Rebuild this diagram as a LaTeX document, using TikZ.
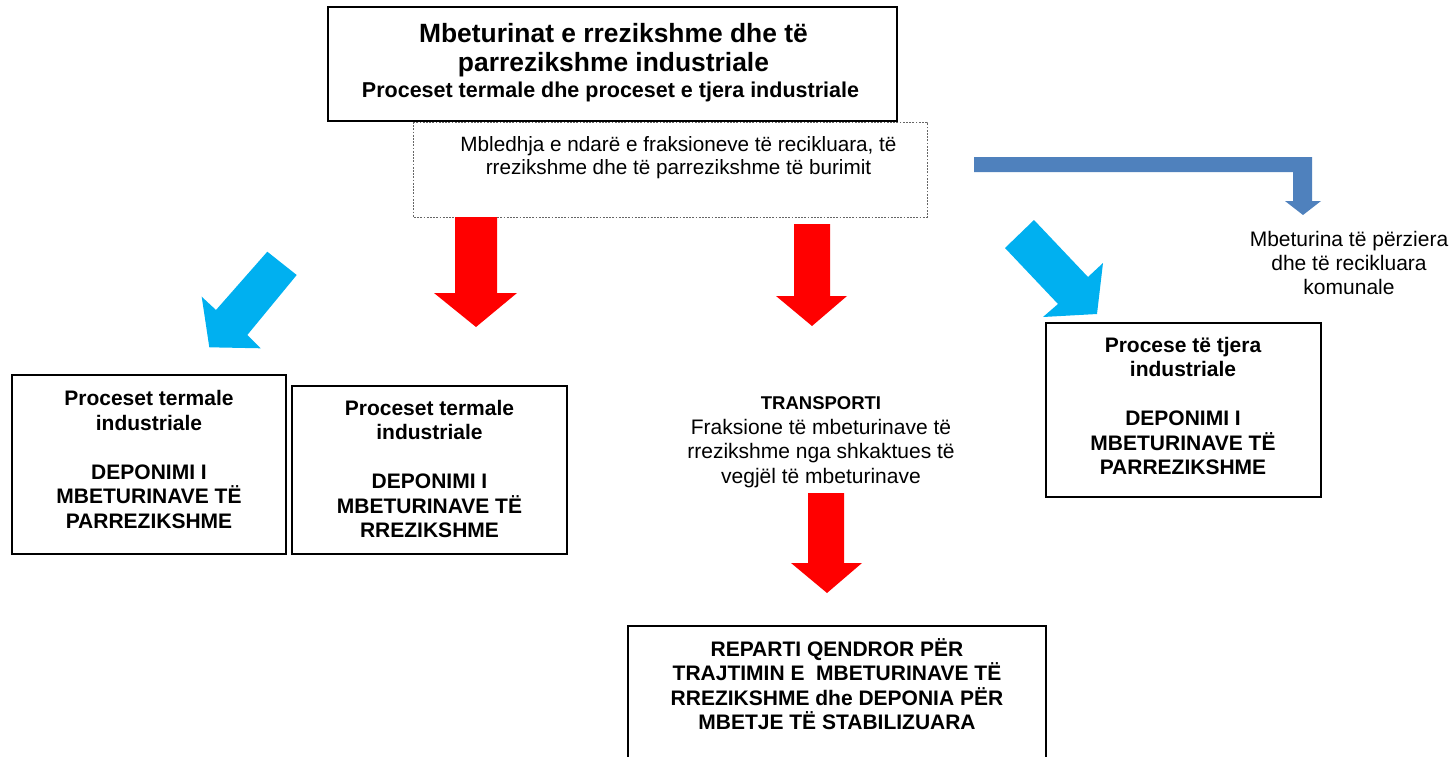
\documentclass[tikz,border=0pt]{standalone}
\usepackage{fontspec}
\setmainfont{Liberation Sans}
\definecolor{redA}{RGB}{255,0,0}
\definecolor{cyanA}{RGB}{0,176,240}
\definecolor{steelA}{RGB}{79,129,189}
\begin{document}
\begin{tikzpicture}[x=1pt,y=-1pt,
  box/.style={draw=black,line width=1.8pt},
  dotbox/.style={draw=black!60,line width=0.9pt,dash pattern=on 1.8pt off 1.4pt},
  txt/.style={inner sep=0pt,align=center,execute at begin node=\strut,execute at end node=\strut},
  boldtxt/.style={txt,font=\fontsize{21}{24.5}\selectfont\bfseries},
  regtxt/.style={txt,font=\fontsize{21}{24}\selectfont},
  redarrow/.style={fill=redA,draw=none},
  cyanarrow/.style={fill=cyanA,draw=none},
  steelarrow/.style={fill=steelA,draw=none}]
\clip (0,0) rectangle (1456,757);
\fill[white] (0,0) rectangle (1456,757);
% boxes
\draw[dotbox] (413,122) rectangle (927,217);
\draw[box] (328,7) rectangle (897,121);
\draw[box] (12,375) rectangle (286,554);
\draw[box] (292,386) rectangle (567,554);
\draw[box] (1046,323) rectangle (1321,497);
\draw[box] (628,626) rectangle (1046,775);
% texts
\node[txt,font=\fontsize{26.4}{29}\selectfont\bfseries] (title) at (613.5,51.7)
  {Mbeturinat e rrezikshme dhe të\\parrezikshme industriale};
\node[inner sep=0pt,anchor=base,font=\fontsize{21.5}{26}\selectfont\bfseries] (subtitle) at (610.5,98)
  {Proceset termale dhe proceset e tjera industriale};
\node[txt,font=\fontsize{20.7}{23}\selectfont] (collect) at (678.5,159.4)
  {Mbledhja e ndarë e fraksioneve të recikluara, të\\rrezikshme dhe të parrezikshme të burimit};
\node[regtxt] (mixed) at (1349,266.7)
  {Mbeturina të përziera\\dhe të recikluara\\komunale};
\node[boldtxt] (leftbox) at (149,463.1)
  {Proceset termale\\industriale\\[24.5pt]DEPONIMI I\\MBETURINAVE TË\\PARREZIKSHME};
\node[boldtxt] (midbox) at (429.5,472.6)
  {Proceset termale\\industriale\\[24.5pt]DEPONIMI I\\MBETURINAVE TË\\RREZIKSHME};
\node[boldtxt] (rightbox) at (1183,409.6)
  {Procese të tjera\\industriale\\[24.5pt]DEPONIMI I\\MBETURINAVE TË\\PARREZIKSHME};
\node[regtxt,font=\fontsize{21}{24.5}\selectfont] (transport) at (821,443.6)
  {{\fontsize{18.5}{24.5}\selectfont\bfseries TRANSPORTI}\\Fraksione të mbeturinave të\\rrezikshme nga shkaktues të\\vegjël të mbeturinave};
\node[boldtxt] (central) at (837,687.6)
  {REPARTI QENDROR PËR\\TRAJTIMIN E \ MBETURINAVE TË\\RREZIKSHME dhe DEPONIA PËR\\MBETJE TË STABILIZUARA};
% red arrows
\fill[redarrow] (455,217) -- (497,217) -- (497,293) -- (517,293) -- (476,327) -- (434,293) -- (455,293) -- cycle;
\fill[redarrow] (794,224) -- (830,224) -- (830,296) -- (847,296) -- (812,326) -- (776,296) -- (794,296) -- cycle;
\fill[redarrow] (808,493) -- (844,493) -- (844,563) -- (862,563) -- (827,593) -- (791,563) -- (808,563) -- cycle;
% cyan arrows
\fill[cyanarrow] (267.3,251.7) -- (296.7,275) -- (247.3,335) -- (260.7,348.3) -- (209.3,347.3) -- (201.7,296.7) -- (216,310) -- cycle;
\fill[cyanarrow] (1005,248) -- (1034,220) -- (1088,277) -- (1103,263) -- (1097,314) -- (1043,317) -- (1058,304) -- cycle;
% bent steel arrow
\fill[steelarrow] (974,157) -- (1312,157) -- (1312,201) -- (1321,201) -- (1303,215) -- (1285,201) -- (1293,201) -- (1293,172) -- (974,172) -- cycle;
\end{tikzpicture}
\end{document}
